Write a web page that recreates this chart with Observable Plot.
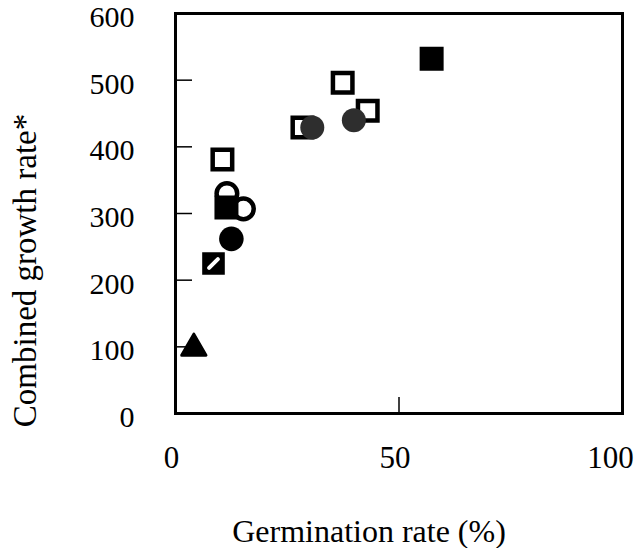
<!DOCTYPE html>
<html><head><meta charset="utf-8">
<script src="https://cdn.jsdelivr.net/npm/d3@7"></script>
<script src="https://cdn.jsdelivr.net/npm/@observablehq/plot@0.6"></script>
<style>body{margin:0;background:#fff} svg{display:block}</style>
</head><body><div id="chart"></div>
<script>
const xTicksLeft = [0, 50];
const xTicksRight = [100];
const yTicks = [0, 100, 200, 300, 400, 500, 600];
const xInnerTicks = [50];
const yInnerTicks = [100, 200, 300, 400, 500];
const xTitle = "Germination rate (%)";
const yTitle = "Combined growth rate*";

const openSquareX = [10.5, 28.4, 37.4, 43.0];
const openSquareY = [381, 429, 496, 454];
const openCircleX = [11.5, 15.2];
const openCircleY = [330, 307];
const grayCircleX = [30.6, 39.9];
const grayCircleY = [429, 440];
const filledSquareX = [11.4, 57.3];
const filledSquareY = [309, 532];
const filledCircleX = [12.5];
const filledCircleY = [262];
const hatchedSquareX = [8.5];
const hatchedSquareY = [225];
const triangleX = [4.1];
const triangleY = [98];

const pts = (xs, ys) => xs.map((x, i) => ({x, y: ys[i]}));
const slash = {
  draw(ctx, size) {
    const h = Math.sqrt(size / Math.PI) * 0.42;
    ctx.moveTo(-h, h);
    ctx.lineTo(h, -h);
  }
};

const chart = Plot.plot({
  width: 635, height: 548,
  marginLeft: 175, marginRight: 13, marginTop: 13, marginBottom: 135,
  style: {fontFamily: "'Liberation Serif', 'Times New Roman', serif", fontSize: "31px", background: "white", color: "black"},
  x: {domain: [0, 100]},
  y: {domain: [0, 600]},
  marks: [
    Plot.axisX({ticks: xTicksLeft, tickSize: 0, tickPadding: 32, label: null, fontSize: 31, dx: -4}),
    Plot.axisX({ticks: xTicksRight, tickSize: 0, tickPadding: 32, label: null, fontSize: 31, dx: -12}),
    Plot.axisX({ticks: xInnerTicks, tickSize: -16, tickFormat: () => "", label: null, strokeWidth: 1.5}),
    Plot.axisY({ticks: yTicks, tickSize: 0, tickPadding: 41, label: null, fontSize: 30, dy: 4}),
    Plot.axisY({ticks: yInnerTicks, tickSize: -17, tickFormat: () => "", label: null, strokeWidth: 1.5}),
    Plot.frame({stroke: "black", strokeWidth: 3}),
    Plot.dot(pts(openSquareX, openSquareY), {x: "x", y: "y", symbol: "square", r: 11, fill: "white", stroke: "black", strokeWidth: 4.5}),
    Plot.dot(pts(openCircleX, openCircleY), {x: "x", y: "y", symbol: "circle", r: 10.3, fill: "white", stroke: "black", strokeWidth: 4.5}),
    Plot.dot(pts(grayCircleX, grayCircleY), {x: "x", y: "y", symbol: "circle", r: 12, fill: "#2e2e2e", stroke: "none"}),
    Plot.dot(pts(filledSquareX, filledSquareY), {x: "x", y: "y", symbol: "square", r: 11, fill: "black", stroke: "black", strokeWidth: 4.5}),
    Plot.dot(pts(filledCircleX, filledCircleY), {x: "x", y: "y", symbol: "circle", r: 12.3, fill: "black", stroke: "none"}),
    Plot.dot(pts(hatchedSquareX, hatchedSquareY), {x: "x", y: "y", symbol: "square", r: 10.5, fill: "black", stroke: "black", strokeWidth: 4}),
    Plot.dot(pts(hatchedSquareX, hatchedSquareY), {x: "x", y: "y", symbol: slash, r: 10.5, fill: "none", stroke: "white", strokeWidth: 4, strokeLinecap: "round"}),
    Plot.dot(pts(triangleX, triangleY), {x: "x", y: "y", symbol: "triangle", r: 9, fill: "black", stroke: "black", strokeWidth: 3, strokeLinejoin: "round"}),
    Plot.text([xTitle], {text: d => d, frameAnchor: "bottom", textAnchor: "middle", dx: -30, dy: 118, fontSize: 32, lineAnchor: "middle", fill: "black"}),
    Plot.text([yTitle], {text: d => d, frameAnchor: "left", textAnchor: "middle", rotate: -90, dx: -150, dy: 57, fontSize: 33, lineAnchor: "middle", fill: "black"})
  ]
});
document.getElementById("chart").appendChild(chart);
</script>
</body></html>
